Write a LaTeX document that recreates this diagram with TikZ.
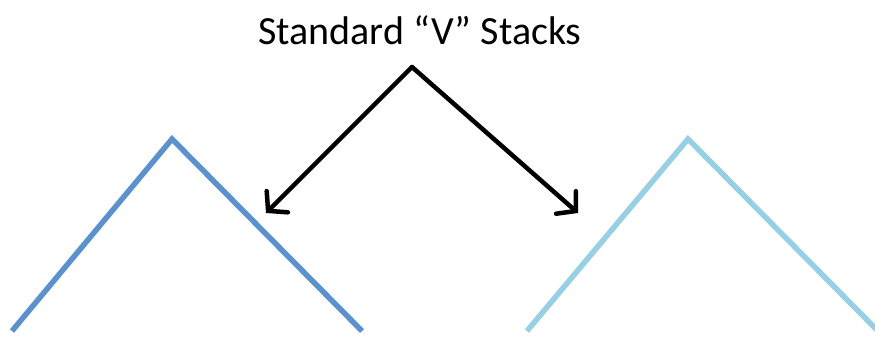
\documentclass[tikz,border=0pt]{standalone}
\usepackage{fontspec}
\setmainfont{Carlito}
\usetikzlibrary{arrows.meta}
\definecolor{vblue}{RGB}{91,146,205}
\definecolor{vcyan}{RGB}{150,208,226}
\begin{document}
\begin{tikzpicture}[x=1pt,y=-1pt]
    \tikzstyle{pile}=[line width=5.5pt]
    \tikzstyle{fleche}=[line width=4.5pt,line cap=round,-{Straight Barb[length=13pt,width=30pt,line cap=round]}]
    \useasboundingbox (0,0) rectangle (875,337);
    \node[font=\fontsize{40}{44}\selectfont,inner sep=0pt] (titre) at (420,30) {Standard “V” Stacks};
    \coordinate (sommet) at (412,67);
    \coordinate (bout1) at (266,213);
    \coordinate (bout2) at (578,213);
    \coordinate (g1) at (12,331);
    \coordinate (h1) at (172,139);
    \coordinate (d1) at (362,331);
    \coordinate (g2) at (527,331);
    \coordinate (h2) at (688,139);
    \coordinate (d2) at (878,331);
    \draw[pile,vblue] (g1) -- (h1) -- (d1);
    \draw[pile,vcyan] (g2) -- (h2) -- (d2);
    \draw[fleche] (sommet) -- (bout1);
    \draw[fleche] (sommet) -- (bout2);
\end{tikzpicture}
\end{document}
